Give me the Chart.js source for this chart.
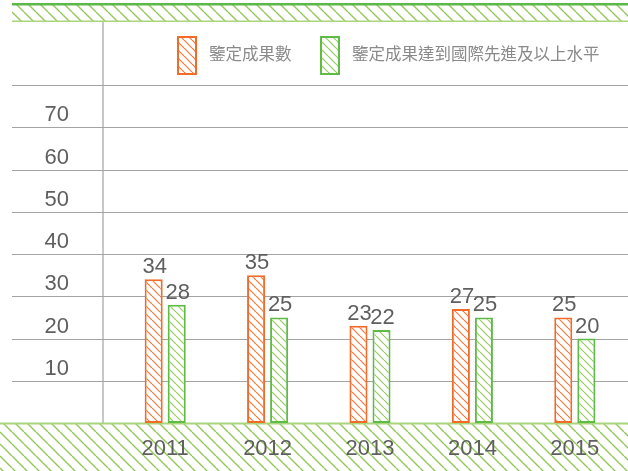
<!DOCTYPE html>
<html>
<head>
<meta charset="utf-8">
<script src="https://cdn.jsdelivr.net/npm/chart.js@4/dist/chart.umd.min.js"></script>
<style>
  html, body { margin: 0; padding: 0; background: #fff; }
  #wrap { width: 628px; height: 471px; }
</style>
</head>
<body>
<div id="wrap"><canvas id="chartResults"></canvas></div>
<script>
var years = ['2011', '2012', '2013', '2014', '2015'];
var seriesNames = ['鑒定成果數', '鑒定成果達到國際先進及以上水平'];
var totalResults = [34, 35, 23, 27, 25];
var advancedResults = [28, 25, 22, 25, 20];
var yTickLabels = [10, 20, 30, 40, 50, 60, 70];
var yGridValues = [10, 20, 30, 40, 50, 60, 70, 80];

var NUM_FONT = "'Liberation Sans', Arial, sans-serif";
var CJK_FONT = "'Noto Sans CJK TC', 'Noto Sans CJK SC', sans-serif";

// diagonal "\" hatch tile
function makeHatch(line, spacing, width) {
	var c = document.createElement('canvas');
	c.width = spacing;
	c.height = spacing;
	var g = c.getContext('2d');
	g.fillStyle = '#fff';
	g.fillRect(0, 0, spacing, spacing);
	g.strokeStyle = line;
	g.lineWidth = width;
	[-spacing, 0, spacing].forEach(function(o) {
		g.beginPath();
		g.moveTo(o, 0);
		g.lineTo(o + spacing, spacing);
		g.stroke();
	});
	return g.createPattern(c, 'repeat');
}

var orangeHatch = makeHatch('#f47a3a', 8, 1.2);
var greenHatch = makeHatch('#95cc62', 8, 1.2);
var bandHatch = makeHatch('#93c95a', 12, 1.4);

var decor = {
	id: 'decor',
	beforeDraw: function(chart) {
		var ctx = chart.ctx;
		var area = chart.chartArea;
		var W = chart.width, H = chart.height;
		ctx.save();
		// top band
		ctx.fillStyle = bandHatch;
		ctx.fillRect(12, 5, W - 12, 16);
		ctx.fillStyle = '#5cb848';
		ctx.fillRect(12, 3, W - 12, 2.5);
		ctx.fillStyle = '#a9d57c';
		ctx.fillRect(12, 20.5, W - 12, 1.5);
		// bottom band
		ctx.fillStyle = bandHatch;
		ctx.fillRect(0, area.bottom, W, H - area.bottom);
		ctx.fillStyle = '#a9d57c';
		ctx.fillRect(0, area.bottom - 0.5, W, 2);
		// vertical axis line
		ctx.strokeStyle = '#b4b4b4';
		ctx.lineWidth = 1.5;
		ctx.beginPath();
		ctx.moveTo(103, 22);
		ctx.lineTo(103, area.bottom);
		ctx.stroke();
		// horizontal grid
		var y = chart.scales.y;
		ctx.strokeStyle = '#a3a3a3';
		ctx.lineWidth = 1;
		yGridValues.forEach(function(v) {
			var py = Math.round(y.getPixelForValue(v)) + 0.5;
			ctx.beginPath();
			ctx.moveTo(12, py);
			ctx.lineTo(W, py);
			ctx.stroke();
		});
		ctx.restore();
	},
	afterDatasetsDraw: function(chart) {
		var ctx = chart.ctx;
		ctx.save();
		ctx.font = '22px ' + NUM_FONT;
		ctx.fillStyle = '#5f5f5f';
		ctx.textAlign = 'center';
		ctx.textBaseline = 'bottom';
		chart.data.datasets.forEach(function(ds, i) {
			chart.getDatasetMeta(i).data.forEach(function(bar, j) {
				ctx.fillText(ds.data[j], bar.x + 1, bar.y - 1);
			});
		});
		ctx.restore();
	},
	afterDraw: function(chart) {
		var ctx = chart.ctx;
		ctx.save();
		var items = [
			{ x: 178, fill: orangeHatch, stroke: '#f26b2b' },
			{ x: 321, fill: greenHatch, stroke: '#5dbb46' }
		];
		ctx.font = '16.5px ' + CJK_FONT;
		ctx.textBaseline = 'middle';
		items.forEach(function(it, i) {
			ctx.fillStyle = it.fill;
			ctx.fillRect(it.x, 37, 18, 37);
			ctx.strokeStyle = it.stroke;
			ctx.lineWidth = 2;
			ctx.strokeRect(it.x, 37, 18, 37);
			ctx.fillStyle = '#8a8a8a';
			ctx.fillText(seriesNames[i], it.x + 31, 54);
		});
		ctx.restore();
	}
};

new Chart(document.getElementById('chartResults'), {
	type: 'bar',
	data: {
		labels: years,
		datasets: [
			{ label: seriesNames[0], data: totalResults, backgroundColor: orangeHatch, borderColor: '#f26b2b', borderWidth: 2, borderSkipped: false },
			{ label: seriesNames[1], data: advancedResults, backgroundColor: greenHatch, borderColor: '#5dbb46', borderWidth: 2, borderSkipped: false }
		]
	},
	plugins: [decor],
	options: {
		responsive: true,
		maintainAspectRatio: false,
		animation: false,
		categoryPercentage: 0.45,
		barPercentage: 0.783,
		layout: { padding: { top: 85, right: 2, left: 0, bottom: 0 } },
		plugins: { legend: { display: false }, tooltip: { enabled: false } },
		scales: {
			x: {
				grid: { display: false, drawTicks: false },
				border: { display: false },
				ticks: { color: '#5f5f5f', font: { family: NUM_FONT, size: 22 }, padding: 13 },
				afterFit: function(s) { s.height = 48; s.paddingLeft = 0; s.paddingRight = 0; }
			},
			y: {
				min: 0,
				max: 80,
				grid: { display: false, drawTicks: false },
				border: { display: false },
				ticks: {
					stepSize: 10,
					color: '#5f5f5f',
					font: { family: NUM_FONT, size: 22 },
					padding: 45,
					labelOffset: -12,
					callback: function(v) { return yTickLabels.indexOf(v) >= 0 ? v : ''; }
				},
				afterFit: function(s) { s.width = 114; s.paddingTop = 0; s.paddingBottom = 0; }
			}
		}
	}
});
</script>
</body>
</html>
